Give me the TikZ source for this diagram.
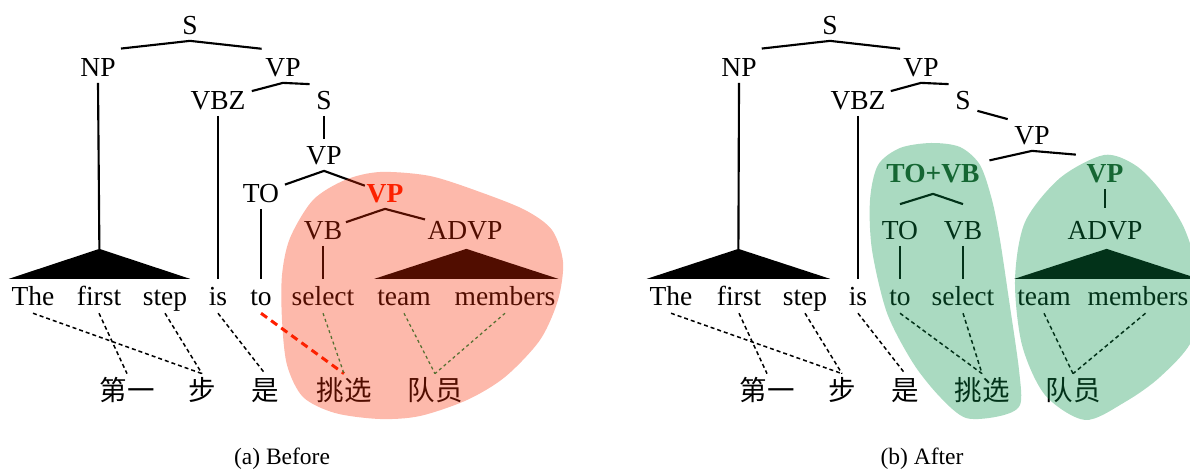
\documentclass[tikz,border=0pt]{standalone}
\usepackage{fontspec}
\setmainfont{Liberation Serif}
\newfontfamily\cjk{Noto Sans CJK SC}
\usetikzlibrary{calc}
\definecolor{blobred}{RGB}{248,42,0}
\definecolor{blobgreen}{RGB}{6,147,74}
\definecolor{labelgreen}{RGB}{30,80,40}
\definecolor{linkred}{RGB}{255,30,0}

\begin{document}
\begin{tikzpicture}[x=0.4pt,y=-0.4pt,
      every node/.style={font=\rmfamily\fontsize{11}{13}\selectfont},
      cat/.style={inner xsep=2.5pt, inner ysep=2.5pt, text height=7.3pt, text depth=0pt},
      word/.style={anchor=base, inner xsep=1pt, inner ysep=2pt, text height=8.25pt, text depth=1.1pt},
      zh/.style={anchor=base, inner sep=1pt, text height=9.35pt, text depth=1.1pt,
        font=\fontsize{11}{13}\selectfont\cjk},
      caption/.style={font=\rmfamily\fontsize{9.4}{11}\selectfont},
      branch/.style={line width=0.85pt},
      align/.style={line width=0.6pt, dash pattern=on 1.6pt off 1.2pt},
      badlink/.style={linkred, line width=1.2pt, dash pattern=on 3pt off 2pt},
      goodlink/.style={blobgreen, line width=0.5pt, dash pattern=on 1.2pt off 1.2pt}]
  \useasboundingbox (0,0) rectangle (1190,472);

  % ---- (a) before: tree over the English side
  \node[cat] (S) at (190,25) {S};
  \node[cat] (NP) at (98,67) {NP};
  \node[cat] (VP) at (283,67) {VP};
  \node[cat] (VBZ) at (218,100) {VBZ};
  \node[cat] (S2) at (324,100) {S};
  \node[cat] (VP2) at (324,155) {VP};
  \node[cat] (TO) at (261,193) {TO};
  \node[cat, text=linkred] (VP3) at (385,193) {\bfseries VP};   % split point
  \node[cat] (VB) at (323,230) {VB};
  \node[cat] (ADVP) at (465,230) {ADVP};

  \node[word] (W1) at (33,305) {The};
  \node[word] (W2) at (99,305) {first};
  \node[word] (W3) at (165,305) {step};
  \node[word] (W4) at (218,305) {is};
  \node[word] (W5) at (261,305) {to};
  \node[word] (W6) at (323,305) {select};
  \node[word] (W7) at (404,305) {team};
  \node[word] (W8) at (505,305) {members};

  \node[zh] (C1) at (127,400) {第一};
  \node[zh] (C2) at (202,400) {步};
  \node[zh] (C3) at (265,400) {是};
  \node[zh] (C4) at (344,400) {挑选};
  \node[zh] (C5) at (435,400) {队员};

  \draw[branch] ($(S.south)!.75!(NP.north)$) -- (S.south) -- ($(S.south)!.77!(VP.north)$);
  \draw[branch] ($(VP.south)!.48!(VBZ.center)$) -- (VP.south) -- (S2.north west);
  \draw[branch] (S2.south) -- (VP2.north);
  \draw[branch] ($(VP2.south)!.62!(TO.center)$) -- (VP2.south) -- ($(VP2.south)!.67!(VP3.center)$);
  \draw[branch] ($(VP3.south)!.63!(VB.center)$) -- (VP3.south) -- ($(VP3.south)!.5!(ADVP.center)$);
  \draw[branch] (VBZ.south) -- (W4.north);
  \draw[branch] (TO.south) -- (W5.north);
  \draw[branch] (VB.south) -- (W6.north);

  % collapsed phrases
  \coordinate (NPT) at ($(W1.north west)!.5!(W3.north east)+(0,-30)$);
  \coordinate (ADVPT) at ($(W7.north west)!.5!(W8.north east)+(0,-30)$);
  \draw[branch] (NP.south) -- (NPT);
  \fill (W1.north west) -- (NPT) -- (W3.north east) -- cycle;
  \fill (W7.north west) -- (ADVPT) -- (W8.north east) -- cycle;

  % word alignment
  \draw[align] (W1.south) -- (C2.north);
  \draw[align] (W2.south) -- (C1.north);
  \draw[align] (W3.south) -- (C2.north);
  \draw[align] (W4.south) -- (C3.north);
  \draw[badlink] (W5.south) -- (C4.north);
  \draw[goodlink] (W6.south) -- (C4.north);
  \draw[goodlink] (W7.south) -- (C5.north);
  \draw[goodlink] (W8.south) -- (C5.north);

  \fill[blobred, opacity=.33] plot[smooth cycle] coordinates {
    (380,172) (430,176) (480,192) (525,210) (552,230) (563,262) (558,300)
    (540,340) (505,377) (467,400) (420,416) (380,419) (335,413) (303,397)
    (287,365) (282,320) (282,275) (290,238) (313,200) (345,180)};

  \node[caption] (CAPA) at (282,459) {(a) Before};

  % ---- (b) after: TO and VB merged
  \node[cat] (RS) at (830,25) {S};
  \node[cat] (RNP) at (739,67) {NP};
  \node[cat] (RVP) at (921,67) {VP};
  \node[cat] (RVBZ) at (858,100) {VBZ};
  \node[cat] (RS2) at (963,100) {S};
  \node[cat] (RVP2) at (1032,135) {VP};
  \node[cat, text=labelgreen] (TOVB) at (933,173) {\bfseries TO+VB};
  \node[cat, text=labelgreen] (RVP3) at (1105,173) {\bfseries VP};
  \node[cat] (RTO) at (900,230) {TO};
  \node[cat] (RVB) at (963,230) {VB};
  \node[cat] (RADVP) at (1105,230) {ADVP};

  \node[word] (RW1) at (671,305) {The};
  \node[word] (RW2) at (739,305) {first};
  \node[word] (RW3) at (805,305) {step};
  \node[word] (RW4) at (858,305) {is};
  \node[word] (RW5) at (900,305) {to};
  \node[word] (RW6) at (963,305) {select};
  \node[word] (RW7) at (1044,305) {team};
  \node[word] (RW8) at (1138,305) {members};

  \node[zh] (RC1) at (767,400) {第一};
  \node[zh] (RC2) at (842,400) {步};
  \node[zh] (RC3) at (905,400) {是};
  \node[zh] (RC4) at (982,400) {挑选};
  \node[zh] (RC5) at (1073,400) {队员};

  \draw[branch] ($(RS.south)!.75!(RNP.north)$) -- (RS.south) -- ($(RS.south)!.77!(RVP.north)$);
  \draw[branch] ($(RVP.south)!.48!(RVBZ.center)$) -- (RVP.south) -- (RS2.north west);
  \draw[branch] ([yshift=2pt]RS2.south east) -- (RVP2.north west);
  \draw[branch] ($(RVP2.south)!.43!(TOVB.center)$) -- (RVP2.south) -- ($(RVP2.south)!.6!(RVP3.north)$);
  \draw[branch] ([yshift=4pt]RTO.north) -- ([yshift=-2pt]TOVB.south) -- ([yshift=4pt]RVB.north);
  \draw[branch] (RVP3.south) -- ([yshift=2.5pt]RADVP.north);
  \draw[branch] (RVBZ.south) -- (RW4.north);
  \draw[branch] (RTO.south) -- (RW5.north);
  \draw[branch] (RVB.south) -- (RW6.north);

  \coordinate (RNPT) at ($(RW1.north west)!.5!(RW3.north east)+(0,-30)$);
  \coordinate (RADVPT) at ($(RW7.north west)!.5!([xshift=3pt]RW8.north east)+(0,-30)$);
  \draw[branch] (RNP.south) -- (RNPT);
  \fill (RW1.north west) -- (RNPT) -- (RW3.north east) -- cycle;
  \fill (RW7.north west) -- (RADVPT) -- ([xshift=3pt]RW8.north east) -- cycle;

  \draw[align] (RW1.south) -- (RC2.north);
  \draw[align] (RW2.south) -- (RC1.north);
  \draw[align] (RW3.south) -- (RC2.north);
  \draw[align] (RW4.south) -- (RC3.north);
  \draw[align] (RW5.south) -- (RC4.north);
  \draw[align] (RW6.south) -- (RC4.north);
  \draw[align] (RW7.south) -- (RC5.north);
  \draw[align] ([xshift=3pt]RW8.south) -- (RC5.north);

  \fill[blobgreen, opacity=.34] plot[smooth cycle] coordinates {
    (931,143) (960,147) (980,165) (992,200) (1000,240) (1009,300) (1019,370)
    (1020,405) (1000,416) (966,418) (940,397) (913,363) (887,313) (872,250)
    (870,200) (878,165) (900,148)};
  \fill[blobgreen, opacity=.34] plot[smooth cycle] coordinates {
    (1104,155) (1135,165) (1160,190) (1185,230) (1200,285) (1192,340)
    (1160,377) (1125,402) (1085,420) (1045,395) (1022,345) (1015,280)
    (1025,222) (1060,178)};

  \node[caption] (CAPB) at (922,459) {(b) After};
\end{tikzpicture}
\end{document}
